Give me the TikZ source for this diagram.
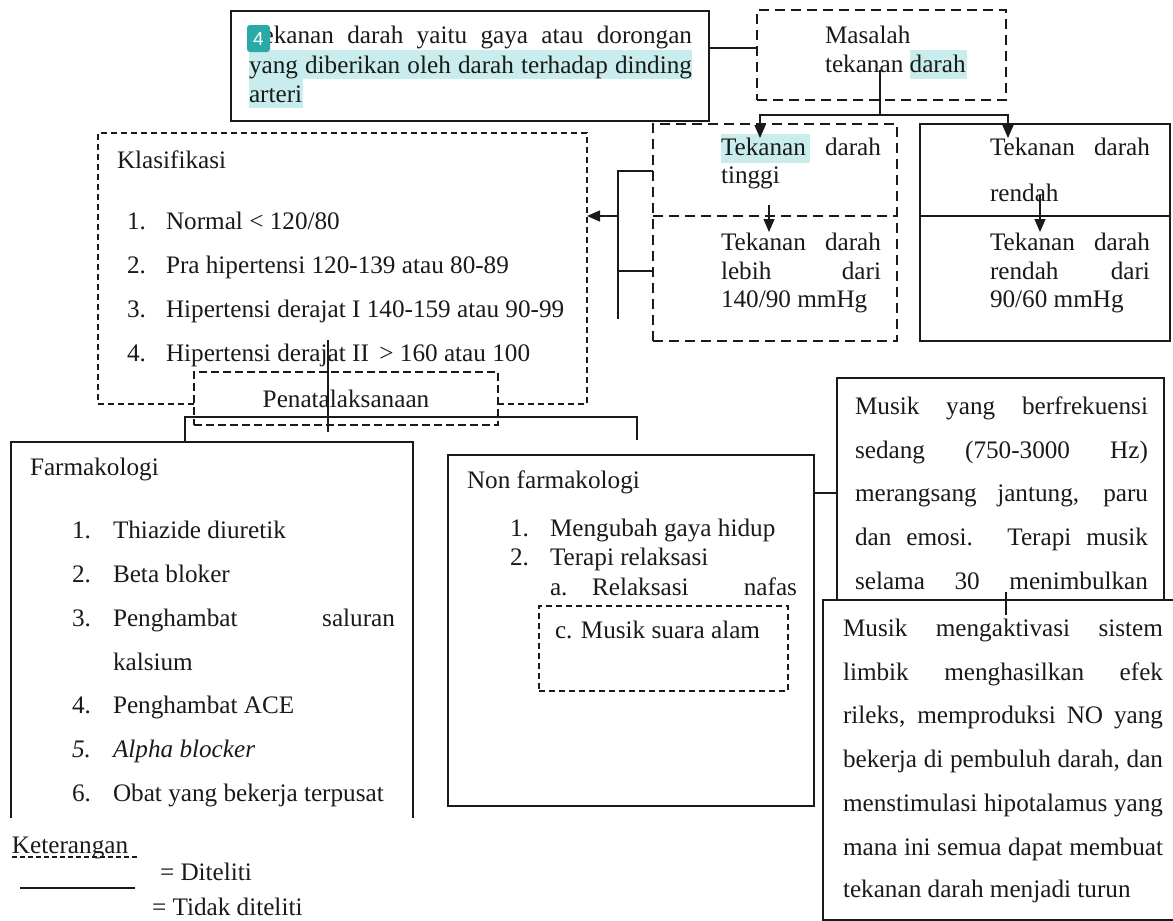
\documentclass[tikz,border=0pt]{standalone}
\usepackage{fontspec}
\setmainfont{Liberation Serif}
\newfontfamily\badgefont{Liberation Sans}
\usetikzlibrary{arrows.meta}
\definecolor{hl}{HTML}{C9ECEC}
\definecolor{badgec}{HTML}{2AA9A9}
\definecolor{ink}{HTML}{1A1A1A}
\newcommand\mainsz{\fontsize{25.2}{30}\selectfont}
\newcommand\js[2]{\makebox[#1pt][s]{#2}}
\begin{document}
\begin{tikzpicture}[x=1pt,y=-1pt,line width=1.3pt,
  sbox/.style={draw=ink,inner sep=0pt,outer sep=0pt},
  dbox/.style={sbox,dash pattern=on 10pt off 6pt},
  fbox/.style={sbox,dash pattern=on 6pt off 4pt},
  txt/.style={anchor=base west,inner sep=0pt,outer sep=0pt,font=\mainsz,text=ink},
  arr/.style={-{Triangle[width=11pt,length=13pt]}},
  conn/.style={draw=ink,line width=1.3pt}]
\useasboundingbox (0,0) rectangle (1173,921);
\fill[white] (0,0) rectangle (1173,921);

% ---------- boxes ----------
\node[sbox,minimum width=478pt,minimum height=110pt] (def) at (470,66) {};
\node[dbox,minimum width=249pt,minimum height=90pt] (masalah) at (881.5,55) {};
\node[dbox,minimum width=244pt,minimum height=217pt] (tinggi) at (775,232.5) {};
\node[sbox,minimum width=250pt,minimum height=217pt] (rendah) at (1045,232.5) {};
\node[fbox,minimum width=489pt,minimum height=271pt] (klas) at (342.5,268.5) {};
\node[dbox,dash pattern=on 8pt off 4pt,fill=white,minimum width=304pt,minimum height=53pt,font=\mainsz,text=ink] (penata) at (346,398.5) {Penatalaksanaan};
\node[inner sep=0pt,outer sep=0pt,minimum width=402pt,minimum height=376pt] (farm) at (212,630) {};
\draw[conn] (farm.south west) -- (farm.north west) -- (farm.north east) -- (farm.south east);
\node[sbox,minimum width=366pt,minimum height=351pt] (nonfarm) at (631,630.5) {};
\node[fbox,minimum width=249pt,minimum height=85pt] (musikc) at (663.5,648.5) {};
\node[sbox,minimum width=327pt,minimum height=230pt] (musik1) at (1000.5,493) {};
\node[sbox,fill=white,minimum width=355pt,minimum height=320pt] (musik2) at (1000.5,760) {};

% dividers inside the two blood-pressure boxes
\draw[conn,dash pattern=on 10pt off 6pt] (tinggi.west |- 0,216) -- (tinggi.east |- 0,216);
\draw[conn] (rendah.west |- 0,216) -- (rendah.east |- 0,216);

% ---------- highlights ----------
\fill[hl] (249,50) rectangle (692,79);
\fill[hl] (249,79) rectangle (303,108);
\fill[hl] (910,50) rectangle (967,79);
\fill[hl] (721,134) rectangle (810,163);

% ---------- texts ----------
\node[txt] (d1) at (249,43) {\js{443}{Tekanan darah yaitu gaya atau dorongan}};
\node[txt] (d2) at (249,73) {\js{443}{yang diberikan oleh darah terhadap dinding}};
\node[txt] (d3) at (249,102) {arteri};
\draw[fill=badgec,draw=none,rounded corners=3pt] (247,25) rectangle (270,52);
\node[inner sep=0pt,text=white,font=\badgefont\fontsize{19}{20}\selectfont] (badge) at (258.5,38.5) {4};

\node[txt] (m1) at (825,43) {Masalah};
\node[txt] (m2) at (825,72) {tekanan darah};

\node[txt] (t1) at (721,155) {\js{160}{Tekanan darah}};
\node[txt] (t2) at (721,183) {tinggi};
\node[txt] (t3) at (721,250) {\js{160}{Tekanan darah}};
\node[txt] (t4) at (721,279) {\js{160}{lebih dari}};
\node[txt] (t5) at (721,307) {140/90 mmHg};

\node[txt] (r1) at (990,155) {\js{160}{Tekanan darah}};
\node[txt] (r2) at (990,201) {rendah};
\node[txt] (r3) at (990,250) {\js{160}{Tekanan darah}};
\node[txt] (r4) at (990,279) {\js{160}{rendah dari}};
\node[txt] (r5) at (990,307) {90/60 mmHg};

\node[txt] (k0) at (117,168) {Klasifikasi};
\node[txt] (kn1) at (127,229) {1.};
\node[txt] (k1) at (166,229) {Normal < 120/80};
\node[txt] (kn2) at (127,273) {2.};
\node[txt] (k2) at (166,273) {Pra hipertensi 120-139 atau 80-89};
\node[txt] (kn3) at (127,317) {3.};
\node[txt] (k3) at (166,317) {Hipertensi derajat I 140-159 atau 90-99};
\node[txt] (kn4) at (127,361) {4.};
\node[txt] (k4) at (166,361) {Hipertensi derajat II \,> 160 atau 100};

\node[txt] (f0) at (30,475) {Farmakologi};
\node[txt] (fn1) at (72,538) {1.};
\node[txt] (f1) at (113,538) {Thiazide diuretik};
\node[txt] (fn2) at (72,582) {2.};
\node[txt] (f2) at (113,582) {Beta bloker};
\node[txt] (fn3) at (72,626) {3.};
\node[txt] (f3) at (113,626) {\js{282}{Penghambat saluran}};
\node[txt] (f3b) at (113,670) {kalsium};
\node[txt] (fn4) at (72,713) {4.};
\node[txt] (f4) at (113,713) {Penghambat ACE};
\node[txt] (fn5) at (72,757) {\textit{5.}};
\node[txt] (f5) at (113,757) {\textit{Alpha blocker}};
\node[txt] (fn6) at (72,801) {6.};
\node[txt] (f6) at (113,801) {Obat yang bekerja terpusat};

\node[txt] (n0) at (467,488) {Non farmakologi};
\node[txt] (nn1) at (510,536) {1.};
\node[txt] (n1) at (550,536) {Mengubah gaya hidup};
\node[txt] (nn2) at (510,565) {2.};
\node[txt] (n2) at (550,565) {Terapi relaksasi};
\node[txt] (nna) at (550,595) {a.};
\node[txt] (na) at (592,595) {\js{205}{Relaksasi nafas}};
\node[txt] (nc) at (555,638) {c. Musik suara alam};

\node[txt] (a1) at (855,414) {\js{293}{Musik yang berfrekuensi}};
\node[txt] (a2) at (855,458) {\js{293}{sedang (750-3000 Hz)}};
\node[txt] (a3) at (855,501) {\js{293}{merangsang jantung, paru}};
\node[txt] (a4) at (855,545) {\js{293}{dan emosi. Terapi musik}};
\node[txt] (a5) at (855,589) {\js{293}{selama 30 menimbulkan}};

\node[txt] (b1) at (843,636) {\js{320}{Musik mengaktivasi sistem}};
\node[txt] (b2) at (843,680) {\js{320}{limbik menghasilkan efek}};
\node[txt] (b3) at (843,723) {\js{320}{rileks, memproduksi NO yang}};
\node[txt] (b4) at (843,767) {\js{320}{bekerja di pembuluh darah, dan}};
\node[txt] (b5) at (843,811) {\js{320}{menstimulasi hipotalamus yang}};
\node[txt] (b6) at (843,855) {\js{320}{mana ini semua dapat membuat}};
\node[txt] (b7) at (843,897) {tekanan darah menjadi turun};

\node[txt] (ket) at (12,853) {Keterangan};
\node[txt] (ld) at (160,880) {= Diteliti};
\node[txt] (lt) at (152,915) {= Tidak diteliti};

% ---------- connectors ----------
\draw[conn] (def.east |- 0,48) -- (masalah.west |- 0,48);
\coordinate (mtop) at (880,70);
\coordinate (mj) at (880,115);
\coordinate (tarr) at (760,138);
\coordinate (rarr) at (1008,138);
\draw[conn] (mtop) -- (mj);
\draw[conn,arr] (mj) -| (tarr);
\draw[conn,arr] (mj) -| (rarr);
\draw[conn,arr] (769,205) -- (769,232);
\draw[conn,arr] (1040,195) -- (1040,232);

\coordinate (bt) at (618,171);
\coordinate (bb) at (618,319);
\draw[conn] (tinggi.west |- bt) -- (bt) -- (bb);
\draw[conn] (618,271) -- (tinggi.west |- 0,271);
\draw[conn,arr] (618,216) -- (klas.east |- 0,216);

\coordinate (kp) at (328,340);
\draw[conn] (kp) -- (328,432);
\coordinate (brl) at (185,417);
\coordinate (brr) at (637,417);
\draw[conn] (farm.north west -| brl) -- (brl) -- (brr) -- (637,440);

\draw[conn] (nonfarm.east |- 0,493) -- (musik1.west |- 0,493);
\draw[conn] (1006,592) -- (1006,615);

% legend lines
\draw[ink,line width=1.1pt,dash pattern=on 5pt off 3pt] (ket.base west) ++(0,4) -- ++(125,0);
\draw[conn] (20,888) -- (135,888);
\end{tikzpicture}
\end{document}
